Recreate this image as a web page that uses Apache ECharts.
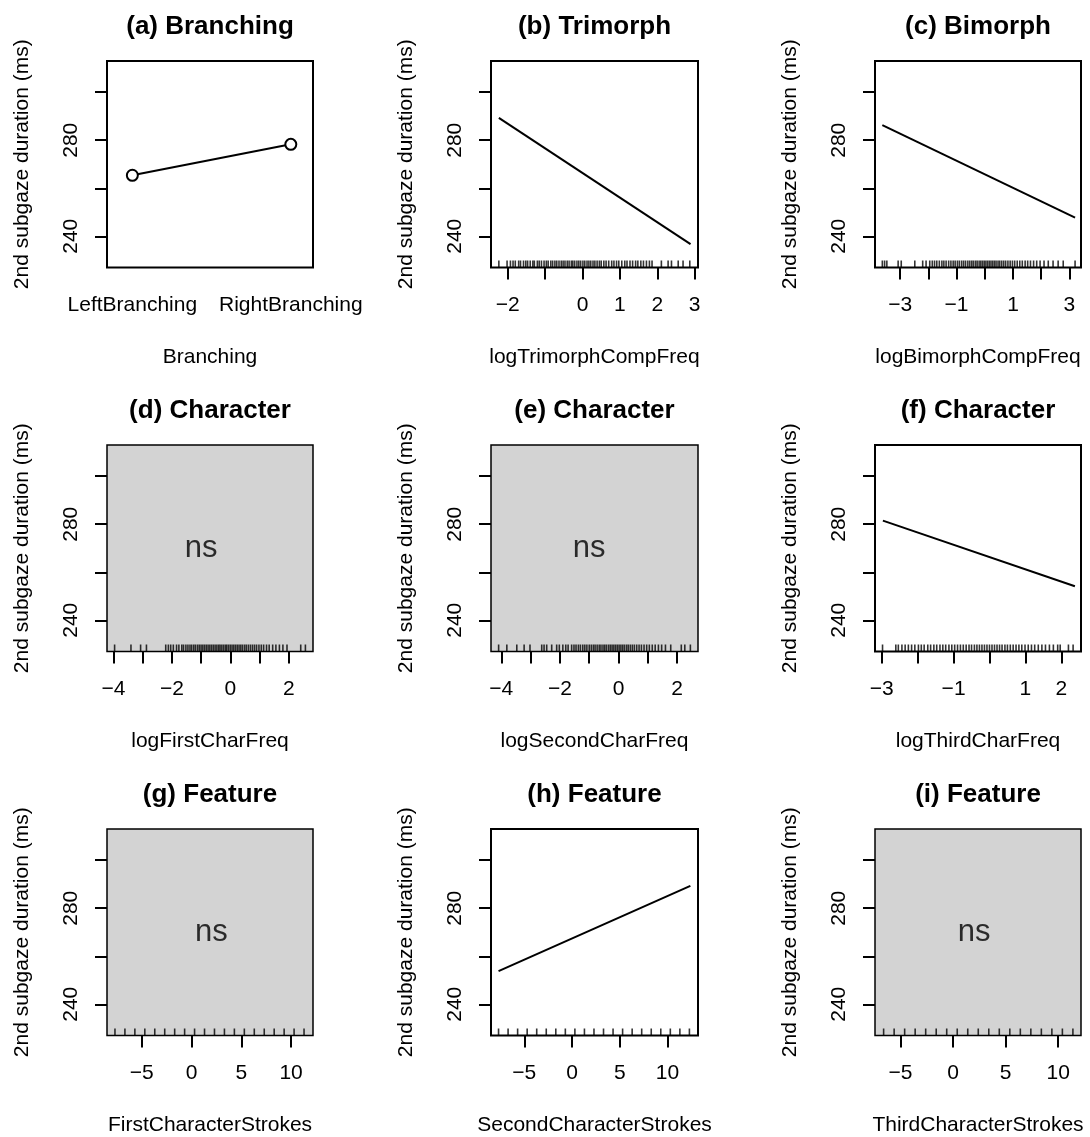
<!DOCTYPE html>
<html>
<head>
<meta charset="utf-8">
<script src="https://cdn.jsdelivr.net/npm/echarts@6/dist/echarts.min.js"></script>
<style>
  html, body { margin: 0; padding: 0; background: #fff; }
  #main { width: 1090px; height: 1137px; }
</style>
</head>
<body>
<div id="main"></div>
<script>
// panel texts
var panelTitles = ['(a) Branching', '(b) Trimorph', '(c) Bimorph',
                   '(d) Character', '(e) Character', '(f) Character',
                   '(g) Feature', '(h) Feature', '(i) Feature'];
var xNames = ['Branching', 'logTrimorphCompFreq', 'logBimorphCompFreq',
              'logFirstCharFreq', 'logSecondCharFreq', 'logThirdCharFreq',
              'FirstCharacterStrokes', 'SecondCharacterStrokes', 'ThirdCharacterStrokes'];
var yName = '2nd subgaze duration (ms)';

// axis ranges and ticks
var yRange = [227, 313];
var yTicks = [240, 260, 280, 300];
var yTickLabels = [240, 280];
var xRanges = [[0.84, 2.14], [-2.45, 3.09], [-3.89, 3.41],
               [-4.22, 2.83], [-4.35, 2.71], [-3.19, 2.55],
               [-8.5, 12.2], [-8.49, 13.2], [-7.42, 12.17]];
var xTicks = [[], [-2, -1, 0, 1, 2, 3], [-3, -2, -1, 0, 1, 2, 3],
              [-4, -3, -2, -1, 0, 1, 2], [-4, -3, -2, -1, 0, 1, 2], [-3, -2, -1, 0, 1, 2],
              [-5, 0, 5, 10], [-5, 0, 5, 10], [-5, 0, 5, 10]];
var xTickLabels = [[1, 2], [-2, 0, 1, 2, 3], [-3, -1, 1, 3],
                   [-4, -2, 0, 2], [-4, -2, 0, 2], [-3, -1, 1, 2],
                   [-5, 0, 5, 10], [-5, 0, 5, 10], [-5, 0, 5, 10]];

// (a) factor effect
var branchCats = ['LeftBranching', 'RightBranching'];
var branchMeans = [265.4, 278.3];

// fitted lines (endpoints of the partial effects)
var trimorphX = [-2.24, 2.89];       var trimorphY = [289.3, 236.7];
var bimorphX = [-3.63, 3.2];         var bimorphY = [286.3, 247.8];
var thirdCharX = [-2.97, 2.38];      var thirdCharY = [281.5, 254.2];
var secondStrokesX = [-7.7, 12.4];   var secondStrokesY = [253.8, 289.3];

// non-significant panels: d, e, g, i
var nsPanels = [3, 4, 6, 8];
var nsX = [-1, -1, 2, 2];
var nsY = 270;

// rugs
var rugTrimorph = [-2.24, -2.02, -1.93, -1.86, -1.8, -1.71, -1.66, -1.58, -1.52, -1.47, -1.4, -1.33,
  -1.29, -1.21, -1.16, -1.1, -1.03, -0.97, -0.92, -0.85, -0.8, -0.74, -0.69, -0.63, -0.57, -0.52,
  -0.47, -0.41, -0.36, -0.3, -0.26, -0.21, -0.15, -0.1, -0.05, 0.01, 0.06, 0.12, 0.17, 0.22, 0.28,
  0.33, 0.39, 0.45, 0.5, 0.57, 0.63, 0.7, 0.78, 0.84, 0.91, 0.97, 1.05, 1.13, 1.19, 1.27, 1.34,
  1.42, 1.48, 1.56, 1.63, 1.71, 1.79, 1.86, 2.11, 2.29, 2.38, 2.56, 2.69, 2.87];
var rugBimorph = [-3.63, -3.55, -3.47, -3.07, -2.96, -2.48, -2.2, -2.08, -1.95, -1.86, -1.78, -1.7,
  -1.61, -1.52, -1.45, -1.37, -1.28, -1.2, -1.12, -1.05, -0.97, -0.9, -0.82, -0.75, -0.68, -0.6,
  -0.53, -0.46, -0.4, -0.33, -0.27, -0.2, -0.14, -0.08, -0.02, 0.04, 0.1, 0.16, 0.22, 0.28, 0.34,
  0.4, 0.47, 0.53, 0.6, 0.67, 0.74, 0.82, 0.9, 0.98, 1.06, 1.15, 1.24, 1.33, 1.43, 1.52, 1.62,
  1.73, 1.84, 1.96, 2.1, 2.25, 2.42, 2.6, 2.78, 3.2];
var rugFirstChar = [-3.96, -3.4, -3.07, -2.87, -2.21, -2.12, -2.04, -1.95, -1.84, -1.76, -1.66, -1.6,
  -1.52, -1.45, -1.38, -1.32, -1.25, -1.19, -1.12, -1.06, -1.0, -0.94, -0.88, -0.82, -0.76, -0.7,
  -0.64, -0.58, -0.52, -0.46, -0.4, -0.35, -0.29, -0.23, -0.17, -0.12, -0.06, 0.0, 0.06, 0.12,
  0.18, 0.24, 0.3, 0.36, 0.42, 0.49, 0.55, 0.62, 0.69, 0.76, 0.83, 0.9, 0.98, 1.06, 1.14, 1.24,
  1.33, 1.45, 1.56, 1.68, 1.8, 1.94, 2.41, 2.57];
var rugSecondChar = [-4.09, -3.81, -3.47, -3.22, -3.02, -2.62, -2.54, -2.45, -2.28, -2.11, -2.02, -1.9,
  -1.8, -1.72, -1.6, -1.52, -1.45, -1.37, -1.3, -1.22, -1.15, -1.08, -1.0, -0.93, -0.86, -0.8,
  -0.73, -0.66, -0.6, -0.53, -0.47, -0.41, -0.34, -0.28, -0.22, -0.16, -0.1, -0.04, 0.02, 0.08,
  0.14, 0.2, 0.27, 0.33, 0.4, 0.47, 0.54, 0.62, 0.7, 0.78, 0.87, 0.96, 1.05, 1.15, 1.25, 1.36,
  1.47, 1.6, 1.78, 2.14, 2.26, 2.45];
var rugThirdChar = [-2.98, -2.61, -2.54, -2.44, -2.35, -2.26, -2.17, -2.08, -1.98, -1.9, -1.82, -1.72,
  -1.64, -1.55, -1.47, -1.38, -1.3, -1.22, -1.13, -1.05, -0.97, -0.89, -0.81, -0.73, -0.65, -0.57,
  -0.5, -0.42, -0.35, -0.28, -0.21, -0.14, -0.07, 0.0, 0.07, 0.14, 0.21, 0.28, 0.35, 0.43, 0.5,
  0.58, 0.66, 0.74, 0.82, 0.9, 0.99, 1.08, 1.17, 1.26, 1.36, 1.46, 1.56, 1.67, 1.78, 1.9, 1.97,
  2.2, 2.33];
var rugFirstStrokes = [-7.7, -6.7, -5.7, -4.7, -3.7, -2.7, -1.7, -0.7, 0.3, 1.3, 2.3, 3.3, 4.3, 5.3,
  6.3, 7.3, 8.3, 9.3, 10.3, 11.3];
var rugSecondStrokes = [-7.7, -6.7, -5.7, -4.7, -3.7, -2.7, -1.7, -0.7, 0.3, 1.3, 2.3, 3.3, 4.3, 5.3,
  6.3, 7.3, 8.3, 9.3, 10.3, 11.3, 12.3];
var rugThirdStrokes = [-6.6, -5.6, -4.6, -3.6, -2.6, -1.6, -0.6, 0.4, 1.4, 2.4, 3.4, 4.4, 5.4, 6.4,
  7.4, 8.4, 9.4, 10.4, 11.4];
var rugs = [null, rugTrimorph, rugBimorph, rugFirstChar, rugSecondChar, rugThirdChar,
            rugFirstStrokes, rugSecondStrokes, rugThirdStrokes];

// layout (pixels)
var colLeft = [107, 491, 875];
var colWidth = [206, 207, 206];
var rowTop = [61, 445, 829];
var boxHeight = 206.5;

var FONT = 'Liberation Sans, Arial, Helvetica, sans-serif';
var LAB = 21;

function fmtNum(v) {
    return v < 0 ? '\u2212' + Math.abs(v) : String(v);
}

var chart = echarts.init(document.getElementById('main'));

var titles = [], grids = [], xAxes = [], yAxes = [], series = [];

for (var i = 0; i < 9; i++) {
    var col = i % 3, row = Math.floor(i / 3);
    var isNs = nsPanels.indexOf(i) >= 0;

    titles.push({
        text: panelTitles[i],
        left: colLeft[col] + colWidth[col] / 2,
        top: rowTop[row] - 47,
        textAlign: 'center',
        padding: 0,
        textStyle: { fontFamily: FONT, fontSize: 26, fontWeight: 'bold', color: '#000' }
    });

    grids.push({
        left: colLeft[col], top: rowTop[row],
        width: colWidth[col], height: boxHeight,
        show: true,
        backgroundColor: isNs ? '#d3d3d3' : '#fff',
        borderColor: '#000',
        borderWidth: isNs ? 1.5 : 2
    });

    xAxes.push({
        type: 'value', gridIndex: i,
        min: xRanges[i][0], max: xRanges[i][1],
        name: xNames[i], nameLocation: 'middle', nameGap: 79,
        nameTextStyle: { fontFamily: FONT, fontSize: LAB, color: '#000' },
        axisLine: { show: false, onZero: false },
        splitLine: { show: false },
        axisTick: { show: xTicks[i].length > 0, customValues: xTicks[i], length: 12,
                    lineStyle: { color: '#000', width: 2 } },
        axisLabel: {
            customValues: xTickLabels[i], margin: 27,
            fontFamily: FONT, fontSize: LAB, color: '#000',
            formatter: i === 0 ? function (v) { return branchCats[Math.round(v) - 1]; } : fmtNum
        }
    });

    yAxes.push({
        type: 'value', gridIndex: i,
        min: yRange[0], max: yRange[1],
        name: yName, nameLocation: 'middle', nameGap: 74,
        nameTextStyle: { fontFamily: FONT, fontSize: LAB, color: '#000' },
        axisLine: { show: false, onZero: false },
        splitLine: { show: false },
        axisTick: { customValues: yTicks, length: 12, lineStyle: { color: '#000', width: 2 } },
        axisLabel: {
            customValues: yTickLabels, rotate: 90, margin: 25,
            fontFamily: FONT, fontSize: LAB, color: '#000'
        }
    });

    if (rugs[i]) {
        series.push({
            type: 'scatter', xAxisIndex: i, yAxisIndex: i,
            clip: false, silent: true,
            symbol: 'rect', symbolSize: [1.6, 7], symbolOffset: [0, -3.5],
            itemStyle: { color: '#000' },
            data: rugs[i].map(function (x) { return [x, yRange[0]]; })
        });
    }

    if (isNs) {
        var k = nsPanels.indexOf(i);
        series.push({
            type: 'scatter', xAxisIndex: i, yAxisIndex: i,
            symbolSize: 0, silent: true,
            label: { show: true, position: 'inside', formatter: 'ns',
                     fontFamily: FONT, fontSize: 31, color: '#000' },
            data: [[nsX[k], nsY]]
        });
    }
}

// (a) Branching: means with lines between
series.push({
    type: 'line', xAxisIndex: 0, yAxisIndex: 0,
    symbol: 'emptyCircle', symbolSize: 11,
    lineStyle: { color: '#000', width: 2 },
    itemStyle: { color: '#000', borderWidth: 2 },
    data: branchMeans.map(function (v, j) { return [j + 1, v]; })
});

function addLine(idx, xs, ys) {
    series.push({
        type: 'line', xAxisIndex: idx, yAxisIndex: idx,
        showSymbol: false, silent: true,
        lineStyle: { color: '#000', width: 2 },
        data: xs.map(function (x, j) { return [x, ys[j]]; })
    });
}
addLine(1, trimorphX, trimorphY);
addLine(2, bimorphX, bimorphY);
addLine(5, thirdCharX, thirdCharY);
addLine(7, secondStrokesX, secondStrokesY);

chart.setOption({
    animation: false,
    backgroundColor: '#fff',
    title: titles,
    grid: grids,
    xAxis: xAxes,
    yAxis: yAxes,
    series: series
});
</script>
</body>
</html>
